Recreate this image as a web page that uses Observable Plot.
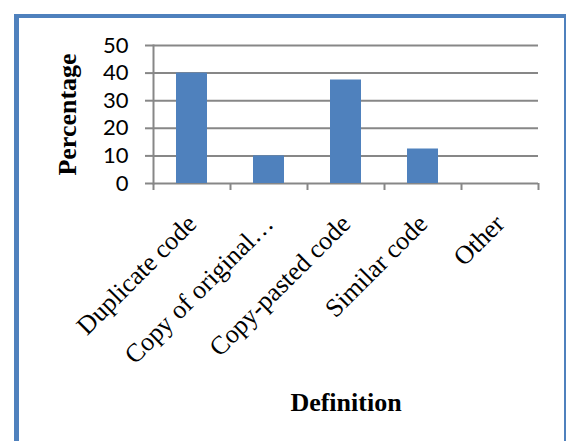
<!DOCTYPE html>
<html><head><meta charset="utf-8">
<script src="https://cdn.jsdelivr.net/npm/d3@7"></script>
<script src="https://cdn.jsdelivr.net/npm/@observablehq/plot@0.6"></script>
<style>
body{margin:0;background:#fff;}
#wrap{position:relative;width:566px;height:441px;overflow:hidden;background:#fff;}
#frame{position:absolute;left:14px;top:14px;width:552px;height:520px;box-sizing:border-box;border-left:5px solid #4F81BD;border-top:4px solid #4F81BD;border-right:2px solid #4F81BD;}
#chart{position:absolute;left:0;top:0;}
g[aria-label="y-axis label"] text, g[aria-label="x-axis label"] text{font-family:"Liberation Serif",serif;font-weight:bold;font-size:26px;fill:#000;}
g[aria-label="x-axis tick label"] text{font-family:"Liberation Serif",serif;font-size:26px;fill:#000;}
g[aria-label="y-axis tick label"] text{font-family:Lato,"Liberation Sans",sans-serif;font-size:22px;fill:#000;}
</style></head><body>
<div id="wrap"><div id="frame"></div><div id="chart"></div></div>
<script>
const categories = ["Duplicate code", "Copy of original…", "Copy-pasted code", "Similar code", "Other"];
const values = [40, 10, 37.5, 12.5, 0];
const yTicks = [0, 10, 20, 30, 40, 50];
const xTitle = "Definition";
const yTitle = "Percentage";

const data = categories.map((c, i) => ({category: c, value: values[i]}));
const W = 566, H = 441, mL = 153, mR = 28, mT = 45, mB = 258;
const paddingInner = 0.6, paddingOuter = 0.3;
const step = (W - mL - mR) / (categories.length - paddingInner + 2 * paddingOuter);
const gray = "#878787";

const chart = Plot.plot({
  width: W, height: H,
  marginLeft: mL, marginRight: mR, marginTop: mT, marginBottom: mB,
  style: {background: "transparent", overflow: "visible"},
  x: {domain: categories, paddingInner, paddingOuter},
  y: {domain: [0, 50]},
  marks: [
    Plot.gridY(yTicks, {stroke: gray, strokeOpacity: 1, strokeWidth: 2}),
    Plot.frame({anchor: "left", stroke: gray, strokeWidth: 2}),
    Plot.barY(data, {x: "category", y: "value", fill: "#4F81BD"}),
    Plot.axisY(yTicks, {tickSize: 8, tickPadding: 17, stroke: gray, strokeWidth: 2,
      label: yTitle, labelAnchor: "center", labelArrow: "none", labelOffset: 96}),
    Plot.axisX({tickSize: 0, tickRotate: -45, tickPadding: 36,
      label: xTitle, labelAnchor: "center", labelArrow: "none", labelOffset: 227}),
    Plot.axisX({tickSize: 7, dx: -step / 2, stroke: gray, strokeWidth: 2, text: null, label: null}),
    Plot.axisX([categories[categories.length - 1]], {tickSize: 7, dx: step / 2, stroke: gray, strokeWidth: 2, text: null, label: null})
  ]
});
document.getElementById("chart").append(chart);
</script>
</body></html>
